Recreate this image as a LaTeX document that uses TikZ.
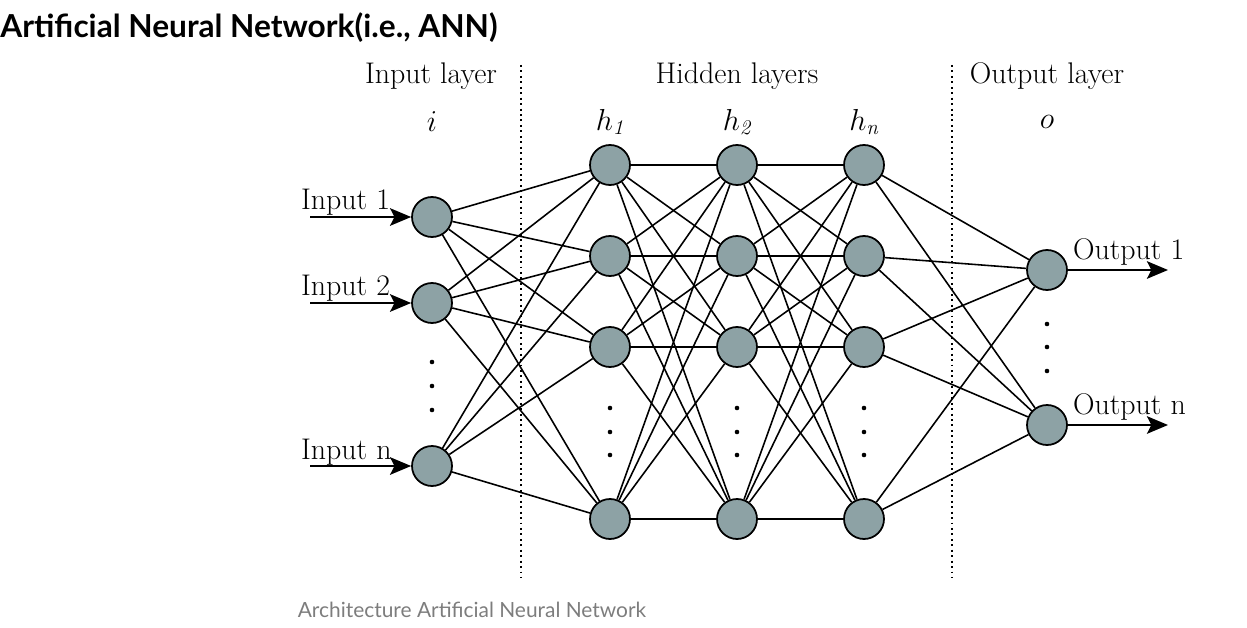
\documentclass[tikz,border=0pt]{standalone}
\usepackage{fontspec}
\usepackage{amsmath}
\usepackage{tikz}
\usetikzlibrary{positioning,arrows.meta}
\newfontfamily\headfont{Lato}
\definecolor{neuronfill}{RGB}{141,162,165}
\definecolor{capgray}{RGB}{125,125,125}

\begin{document}
\begin{tikzpicture}[
    x=0.02cm, y=-0.02cm,
    >={Stealth[length=12pt, width=10pt, inset=2.5pt]},
    neuron/.style={draw, line width=1pt, circle, fill=neuronfill, minimum size=0.8cm, inner sep=0pt},
    link/.style={line width=0.9pt},
    dotnode/.style={circle, fill=black, minimum size=2.6pt, inner sep=0pt},
    divider/.style={dotted, line width=1.1pt},
    lbl/.style={font=\fontsize{17}{20}\selectfont, inner sep=1pt},
    arrow/.style={->, line width=1.1pt},
]
    \useasboundingbox (0,0) rectangle (1247,628);

    % Title and caption
    \node[anchor=west, font=\headfont\bfseries\fontsize{18}{21}\selectfont, inner sep=0pt] (title) at (0,28) {Artificial Neural Network(i.e., ANN)};
    \node[font=\headfont\fontsize{11.9}{14}\selectfont, text=capgray] (caption) at (472,610) {Architecture Artificial Neural Network};

    % Layer headings
    \node[lbl] (inlayer) at (431,76) {Input layer};
    \node[lbl] (hidlayer) at (737,76) {Hidden layers};
    \node[lbl] (outlayer) at (1047,76) {Output layer};
    \node[lbl] (idxi) at (432,122) {$i$};
    \node[lbl] (idxh1) at (610,122) {$h_{\mathit{1}}$};
    \node[lbl] (idxh2) at (737,122) {$h_{\mathit{2}}$};
    \node[lbl] (idxhn) at (864,122) {$h_{\mathit{n}}$};
    \node[lbl] (idxo) at (1047,122) {$o$};

    % Dividers
    \coordinate (divAtop) at (521,65);
    \coordinate (divAbot) at (521,578);
    \coordinate (divBtop) at (952,65);
    \coordinate (divBbot) at (952,578);
    \draw[divider] (divAtop) -- (divAbot);
    \draw[divider] (divBtop) -- (divBbot);

    % Input layer
    \foreach \k/\yy in {1/217, 2/303, 3/466}
        \node[neuron] (in\k) at (432,\yy) {};

    % Hidden layers
    \foreach \l/\xx in {1/610, 2/737, 3/864}
        \foreach \k/\yy in {1/165, 2/256, 3/347, 4/519}
            \node[neuron] (hid\l-\k) at (\xx,\yy) {};

    % Output layer
    \node[neuron] (out1) at (1047,270) {};
    \node[neuron] (out2) at (1047,425) {};

    % Connections
    \foreach \a in {1,2,3}
        \foreach \b in {1,...,4}
            \draw[link] (in\a) -- (hid1-\b);
    \foreach \a in {1,...,4}
        \foreach \b in {1,...,4} {
            \draw[link] (hid1-\a) -- (hid2-\b);
            \draw[link] (hid2-\a) -- (hid3-\b);
        }
    \foreach \a in {1,...,4}
        \foreach \b in {1,2}
            \draw[link] (hid3-\a) -- (out\b);

    % Ellipsis dots
    \foreach \k/\yy in {1/362, 2/386, 3/410}
        \node[dotnode] (indot\k) at (432,\yy) {};
    \foreach \l/\xx in {1/610, 2/737, 3/864}
        \foreach \k/\yy in {1/408, 2/432, 3/455}
            \node[dotnode] (hdot\l-\k) at (\xx,\yy) {};
    \foreach \k/\yy in {1/324, 2/347, 3/371}
        \node[dotnode] (outdot\k) at (1047,\yy) {};

    % Inputs
    \foreach \k/\yy/\txt in {1/217/1, 2/303/2, 3/466/n} {
        \coordinate (src\k) at (310,\yy);
        \draw[arrow] (src\k) -- (in\k);
        \node[lbl, anchor=base west] (inlbl\k) at (299,\yy-7) {Input \txt};
    }

    % Outputs
    \foreach \k/\yy/\txt in {1/270/1, 2/425/n} {
        \coordinate (dst\k) at (1168,\yy);
        \draw[arrow] (out\k) -- (dst\k);
        \node[lbl, anchor=base west] (outlbl\k) at (1071,\yy-11) {Output \txt};
    }

\end{tikzpicture}
\end{document}
